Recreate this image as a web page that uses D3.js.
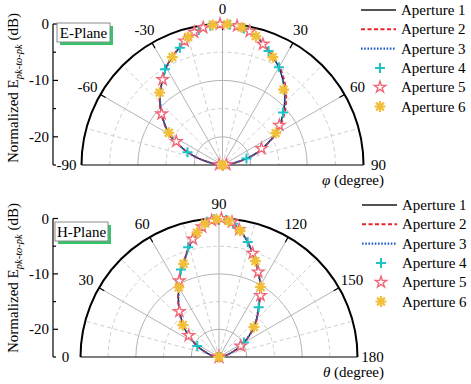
<!DOCTYPE html>
<html>
<head>
<meta charset="UTF-8">
<title>E/H plane patterns</title>
<script src="https://cdn.jsdelivr.net/npm/d3@7/dist/d3.min.js"></script>
<style type="text/css">
body, html {
    margin: 0;
    background: #fff;
}
text {
    font-family: "Liberation Serif", "Times New Roman", serif;
    fill: #000;
}
.grid-solid { fill: none; stroke: #b4b4b4; stroke-width: 1; }
.grid-dash  { fill: none; stroke: #cfcfcf; stroke-width: 1; stroke-dasharray: 4,3; }
</style>
</head>
<body>
<svg id="chart" width="471" height="384"></svg>
<script type="text/javascript">
// ---------- data ----------
var seriesNames = ["Aperture 1", "Aperture 2", "Aperture 3", "Aperture 4", "Aperture 5", "Aperture 6"];

// E-plane, phi (degree)
var eTicks = [-90, -60, -30, 0, 30, 60, 90];
var eAng = [-90, -85, -80, -75, -70, -65, -60, -55, -50, -45, -40, -35, -30, -25, -20, -15, -10, -5, 0,
            5, 10, 15, 20, 25, 30, 35, 40, 45, 50, 55, 60, 65, 70, 75, 80, 85, 90];
var eAp1 = [-25, -24.4, -22.9, -20.8, -18.5, -16.3, -14.1, -12.5, -10.9, -9.3, -7.9, -6.5, -5.0, -3.9, -2.8, -1.5, -0.7, -0.2, 0,
            -0.2, -0.6, -1.5, -2.7, -3.9, -5.0, -6.4, -7.9, -9.4, -11.0, -12.6, -14.3, -16.4, -18.3, -20.6, -22.8, -24.3, -25];
var eAp2 = [-25, -24.3, -22.8, -20.7, -18.4, -16.2, -14.0, -12.4, -10.8, -9.2, -7.8, -6.4, -5.0, -3.9, -2.7, -1.5, -0.7, -0.2, 0,
            -0.2, -0.6, -1.4, -2.6, -3.7, -4.8, -6.1, -7.5, -9.0, -10.6, -12.3, -14.1, -16.2, -18.2, -20.5, -22.7, -24.2, -25];
var eAp3 = [-25, -24.4, -22.9, -20.9, -18.6, -16.4, -14.2, -12.6, -11.0, -9.4, -7.9, -6.5, -5.1, -3.9, -2.8, -1.5, -0.7, -0.2, 0,
            -0.2, -0.6, -1.5, -2.7, -3.9, -5.0, -6.4, -7.9, -9.4, -11.0, -12.6, -14.3, -16.4, -18.4, -20.7, -22.9, -24.4, -25];
var eAp4Ang = [-88, -70, -31, -20, -10, -5, 3, 9, 22, 30, 49, 75, 88];
var eAp4    = [-25, -18.4, -5.2, -2.9, -0.7, -0.2, -0.1, -0.5, -3.2, -5.0, -10.8, -20.6, -25];
var eAp5Ang = [-84, -63, -50, -35, -17, -12, -8, -1, 6, 11.5, 18.5, 55, 67, 85];
var eAp5    = [-24.4, -15.8, -10.9, -6.5, -2.0, -0.9, -0.4, 0, -0.2, -0.8, -2.4, -12.7, -17.5, -24.3];
var eAp6Ang = [-90, -59, -41, -25, -15, -4, 2, 8, 14.5, 25, 39, 59, 89];
var eAp6    = [-25, -13.9, -8.0, -3.9, -1.5, -0.1, 0, -0.4, -1.4, -3.9, -7.8, -14.0, -25];

// H-plane, theta (degree)
var hTicks = [0, 30, 60, 90, 120, 150, 180];
var hAng = [0, 5, 10, 15, 20, 25, 30, 35, 40, 45, 50, 55, 60, 65, 70, 75, 80, 85, 90,
            95, 100, 105, 110, 115, 120, 125, 130, 135, 140, 145, 150, 155, 160, 165, 170, 175, 180];
var hAp1 = [-25, -24.7, -24.1, -23.3, -22.4, -21.1, -19.8, -18.4, -16.8, -15.4, -13.8, -12.2, -10.5, -8.4, -6.6, -4.3, -2.2, -0.5, 0,
            -0.5, -2.0, -4.0, -6.1, -8.2, -10.0, -12.2, -14.0, -15.4, -16.9, -18.4, -19.8, -21.2, -22.5, -23.4, -24.2, -24.7, -25];
var hAp2 = [-25, -24.7, -24.0, -23.2, -22.3, -21.0, -19.7, -18.3, -16.7, -15.3, -13.7, -12.1, -10.4, -8.3, -6.5, -4.2, -2.1, -0.5, 0,
            -0.5, -2.0, -4.0, -6.0, -8.1, -9.9, -12.1, -13.9, -15.3, -16.8, -18.3, -19.7, -21.1, -22.4, -23.3, -24.1, -24.7, -25];
var hAp3 = [-25, -24.8, -24.2, -23.4, -22.5, -21.2, -19.9, -18.5, -16.9, -15.5, -13.9, -12.3, -10.6, -8.5, -6.7, -4.4, -2.3, -0.5, 0,
            -0.5, -2.1, -4.1, -6.2, -8.3, -10.1, -12.3, -14.1, -15.5, -17.0, -18.5, -19.9, -21.3, -22.6, -23.5, -24.3, -24.8, -25];
var hAp4Ang = [4, 27, 66.5, 74.3, 85, 88, 93, 96, 104, 128.5, 150, 176];
var hAp4    = [-24.8, -20.6, -7.8, -4.4, -0.5, -0.1, -0.2, -0.8, -3.6, -13.5, -19.8, -24.8];
var hAp5Ang = [2, 35.4, 49, 62.5, 77.5, 82.6, 87, 91, 95.5, 99, 108, 114.8, 124, 153, 178];
var hAp5    = [-25, -18.3, -14.1, -9.5, -3.2, -1.3, -0.3, 0, -0.5, -1.7, -5.3, -8.1, -11.6, -20.6, -25];
var hAp6Ang = [0, 41.4, 60, 69.2, 80, 84, 89, 94, 99.5, 110.8, 120.7, 139.4, 180];
var hAp6    = [-25, -16.3, -10.5, -7.0, -2.2, -0.8, -0.1, -0.4, -1.9, -6.5, -10.3, -16.7, -25];

var rTicks = [0, -10, -20];

// ---------- styles ----------
var lineStyle = [
    {color: "#1a1a1a", dash: null,      width: 1.4},
    {color: "#e8242c", dash: "4,2.5",   width: 1.6},
    {color: "#1f5fcc", dash: "1.6,1.6", width: 1.8}
];
var markerColor = ["#1cc4c8", "#f06878", "#f2bf3a"];

var svg = d3.select("#chart");

function zip(ang, val) {
    return ang.map(function (a, i) { return {ang: a, v: val[i]}; });
}

function drawMarker(g, kind, x, y) {
    if (kind === 0) {
        g.append("path")
            .attr("d", "M" + (x - 5) + "," + y + "h10M" + x + "," + (y - 5) + "v10")
            .attr("stroke", markerColor[0]).attr("stroke-width", 2).attr("fill", "none");
    } else if (kind === 1) {
        g.append("path")
            .attr("d", d3.symbol(d3.symbolStar, 40)())
            .attr("transform", "translate(" + x + "," + y + ")")
            .attr("fill", "#fff").attr("stroke", markerColor[1]).attr("stroke-width", 1.4);
    } else {
        var p = "";
        [0, 45, 90, 135].forEach(function (a) {
            var dx = 5.5 * Math.cos(a * Math.PI / 180), dy = 5.5 * Math.sin(a * Math.PI / 180);
            p += "M" + (x - dx) + "," + (y - dy) + "L" + (x + dx) + "," + (y + dy);
        });
        g.append("path").attr("d", p)
            .attr("stroke", markerColor[2]).attr("stroke-width", 2.2).attr("fill", "none");
    }
}

function drawPlot(cfg) {
    var R = cfg.R;
    var ang = d3.scaleLinear().domain(cfg.domain).range([-Math.PI / 2, Math.PI / 2]);
    var rad = d3.scaleLinear().domain([-25, 0]).range([0, R]).clamp(true);

    var g = svg.append("g").attr("transform", "translate(" + cfg.cx + "," + cfg.cy + ")");

    // radial grid circles
    [-5, -10, -15, -20].forEach(function (d) {
        var r = rad(d);
        g.append("path")
            .attr("class", d % 10 === 0 ? "grid-solid" : "grid-dash")
            .attr("d", "M" + (-r) + ",0A" + r + "," + r + " 0 0 1 " + r + ",0");
    });

    // spokes
    var step = (cfg.domain[1] - cfg.domain[0]) / 12;
    d3.range(1, 12).forEach(function (i) {
        var a = cfg.domain[0] + i * step;
        var p = d3.pointRadial(ang(a), R);
        g.append("line")
            .attr("class", i % 2 === 0 ? "grid-solid" : "grid-dash")
            .attr("x1", 0).attr("y1", 0).attr("x2", p[0]).attr("y2", p[1]);
    });

    // outer arc, base line
    g.append("path")
        .attr("d", "M" + (-R) + ",0A" + R + "," + R + " 0 0 1 " + R + ",0")
        .attr("fill", "none").attr("stroke", "#000").attr("stroke-width", 2);
    g.append("line").attr("x1", -R).attr("x2", R).attr("y1", 0).attr("y2", 0)
        .attr("stroke", "#000").attr("stroke-width", 1.2);

    // angular ticks + labels
    cfg.ticks.forEach(function (t) {
        var p1 = d3.pointRadial(ang(t), R), p0 = d3.pointRadial(ang(t), R - 6);
        if (Math.abs(t - cfg.domain[0]) > 0.1 && Math.abs(t - cfg.domain[1]) > 0.1) {
            g.append("line").attr("x1", p0[0]).attr("y1", p0[1]).attr("x2", p1[0]).attr("y2", p1[1])
                .attr("stroke", "#000").attr("stroke-width", 1.2);
        }
        var pl = d3.pointRadial(ang(t), R + 15);
        g.append("text").attr("x", pl[0]).attr("y", pl[1])
            .attr("text-anchor", "middle").attr("dominant-baseline", "central")
            .attr("font-size", "15px").text(t);
    });

    // lines
    var line = d3.lineRadial()
        .angle(function (d) { return ang(d.ang); })
        .radius(function (d) { return rad(d.v); })
        .curve(d3.curveCatmullRom);
    cfg.lines.forEach(function (vals, i) {
        g.append("path").datum(zip(cfg.lineAng, vals))
            .attr("d", line)
            .attr("fill", "none")
            .attr("stroke", lineStyle[i].color)
            .attr("stroke-width", lineStyle[i].width)
            .attr("stroke-dasharray", lineStyle[i].dash);
    });

    // markers
    cfg.markers.forEach(function (m, k) {
        zip(m[0], m[1]).forEach(function (d) {
            var p = d3.pointRadial(ang(d.ang), rad(d.v));
            drawMarker(g, k, p[0], p[1]);
        });
    });

    // radial (dB) axis on the left
    var yScale = d3.scaleLinear().domain([-25, 0]).range([cfg.cy, cfg.cy - R]);
    var ax = svg.append("g");
    ax.append("line").attr("x1", cfg.axisX).attr("x2", cfg.axisX)
        .attr("y1", yScale(0)).attr("y2", yScale(-25)).attr("stroke", "#000").attr("stroke-width", 1.2);
    [0, -5, -10, -15, -20, -25].forEach(function (d) {
        ax.append("line").attr("x1", cfg.axisX).attr("x2", cfg.axisX + (d % 10 === 0 ? 5 : 3))
            .attr("y1", yScale(d)).attr("y2", yScale(d)).attr("stroke", "#000").attr("stroke-width", 1.2);
    });
    rTicks.forEach(function (d) {
        ax.append("text").attr("x", cfg.axisX - 4).attr("y", yScale(d))
            .attr("text-anchor", "end").attr("dominant-baseline", "central")
            .attr("font-size", "15px").text(d);
    });

    // y title
    var yt = svg.append("text")
        .attr("transform", "translate(18," + cfg.titleY + ") rotate(-90)")
        .attr("text-anchor", "middle").attr("font-size", "15px");
    yt.append("tspan").text("Normalized E");
    yt.append("tspan").attr("font-style", "italic").attr("font-size", "10.5px").attr("dy", 4).text("pk-to-pk");
    yt.append("tspan").attr("dy", -4).text(" (dB)");

    // x title
    var xt = svg.append("text").attr("x", 384).attr("y", cfg.xTitleY)
        .attr("text-anchor", "end").attr("font-size", "15px");
    xt.append("tspan").attr("font-style", "italic").text(cfg.sym);
    xt.append("tspan").text(" (degree)");

    // plane tag
    svg.append("rect").attr("x", cfg.tag[0] + 3).attr("y", cfg.tag[1] + 3)
        .attr("width", 53).attr("height", 19).attr("fill", "#36c46a");
    svg.append("rect").attr("x", cfg.tag[0]).attr("y", cfg.tag[1])
        .attr("width", 53).attr("height", 19).attr("fill", "#fff").attr("stroke", "#8a8a8a");
    svg.append("text").attr("x", cfg.tag[0] + 26.5).attr("y", cfg.tag[1] + 14.5)
        .attr("text-anchor", "middle").attr("font-size", "15px").text(cfg.name);

    // legend
    var lg = svg.append("g");
    seriesNames.forEach(function (s, i) {
        var y = cfg.legY + i * 19.3;
        if (i < 3) {
            lg.append("line").attr("x1", cfg.legX).attr("x2", cfg.legX + 35).attr("y1", y).attr("y2", y)
                .attr("stroke", lineStyle[i].color).attr("stroke-width", lineStyle[i].width + 0.3)
                .attr("stroke-dasharray", lineStyle[i].dash);
        } else {
            drawMarker(lg, i - 3, cfg.legX + 19, y);
        }
        lg.append("text").attr("x", cfg.legX + 40).attr("y", y)
            .attr("dominant-baseline", "central").attr("font-size", "15px").text(s);
    });
}

drawPlot({
    cx: 222.5, cy: 165, R: 141, domain: [-90, 90], ticks: eTicks,
    lineAng: eAng, lines: [eAp1, eAp2, eAp3],
    markers: [[eAp4Ang, eAp4], [eAp5Ang, eAp5], [eAp6Ang, eAp6]],
    axisX: 53, titleY: 88, xTitleY: 185, sym: "\u03c6",
    tag: [57, 23], name: "E-Plane", legX: 361, legY: 10
});

drawPlot({
    cx: 219, cy: 357, R: 138.5, domain: [0, 180], ticks: hTicks,
    lineAng: hAng, lines: [hAp1, hAp2, hAp3],
    markers: [[hAp4Ang, hAp4], [hAp5Ang, hAp5], [hAp6Ang, hAp6]],
    axisX: 53, titleY: 278, xTitleY: 377, sym: "\u03b8",
    tag: [55, 222], name: "H-Plane", legX: 362, legY: 205
});
</script>
</body>
</html>
